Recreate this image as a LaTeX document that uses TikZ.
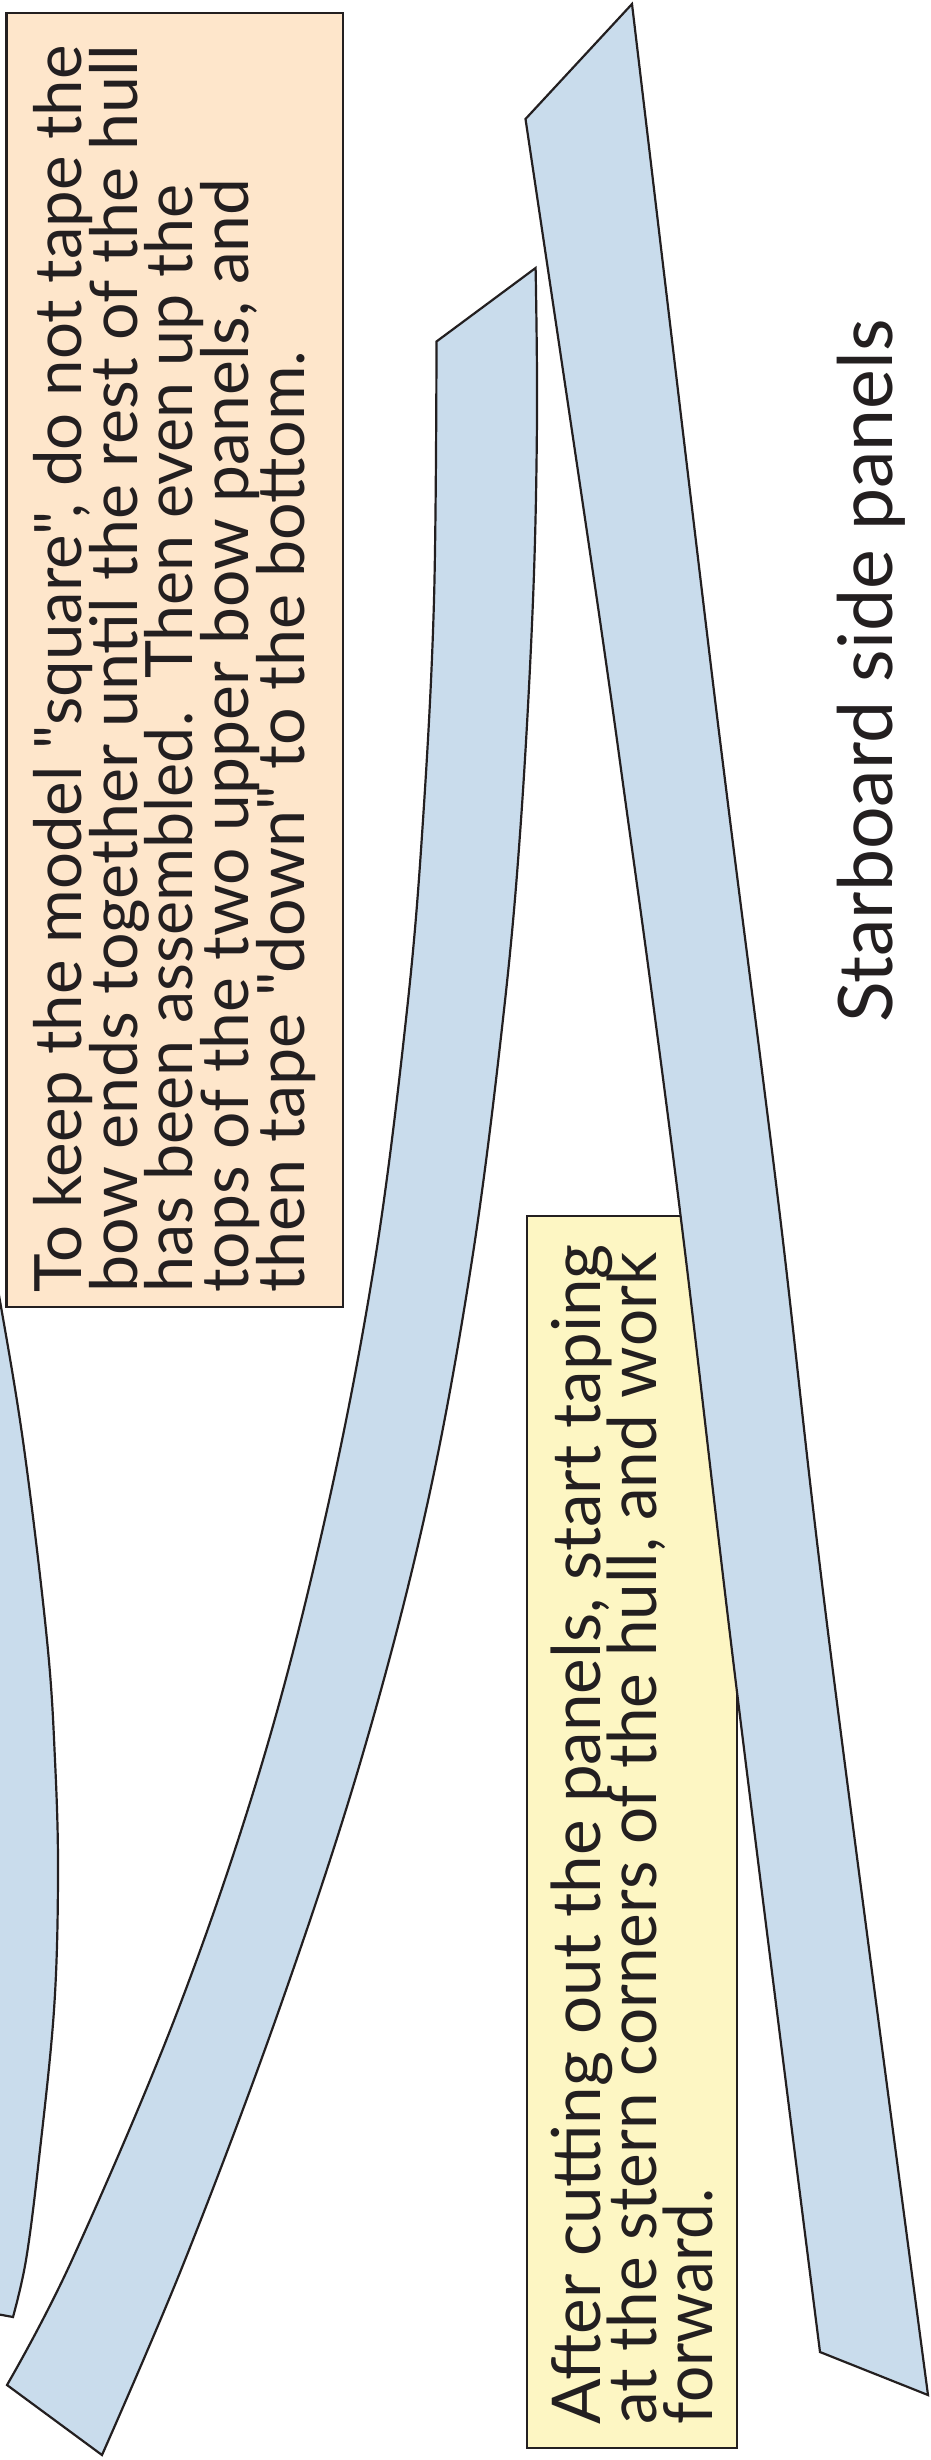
\documentclass[tikz,border=0pt]{standalone}
\usepackage{fontspec}
\newfontfamily\gill{Lato}
\definecolor{ink}{HTML}{231F20}
\definecolor{panelblue}{HTML}{C9DCEC}
\definecolor{notepeach}{HTML}{FEE6CB}
\definecolor{noteyellow}{HTML}{FDF6C3}
\newcommand{\fitl}[2]{\scalebox{#1}[1]{#2}}
\newcommand{\tightlines}{\setlength{\lineskiplimit}{-200pt}\relax}
\tikzset{
  panel/.style={draw=ink,fill=panelblue,line width=2.2pt,line join=miter},
  notebox/.style={draw=ink,line width=2.7pt},
  lbl/.style={text=ink,rotate=90,anchor=north west,align=left,inner sep=0pt}
}
\begin{document}
\begin{tikzpicture}[x=1bp,y=-1bp]
\useasboundingbox (0,0) rectangle (930,2460);
\fill[white] (0,0) rectangle (930,2460);
\begin{scope}
\clip (0,0) rectangle (930,2460);
\draw[panel] plot[smooth,tension=0.6] coordinates {(-14,1230) (0,1301) (24,1448) (47,1640) (55,1760) (58,1875) (54,2010) (38.5,2163) (26,2260) (13,2317)} -- (-14,2312) -- cycle;
\end{scope}
\draw[notebox,fill=notepeach] (6.5,13) rectangle (343,1307);
\draw[notebox,fill=noteyellow] (527,1216) rectangle (737,2448);
\draw[panel] (535.6,268) -- (436.5,341.5)
  -- plot[smooth,tension=0.6] coordinates {(436.5,341.5) (434,600) (423,820) (407,1010) (375,1260) (327,1510) (263,1760) (178,2010) (72,2260) (7,2385)}
  -- (102,2455)
  -- plot[smooth,tension=0.6] coordinates {(102,2455) (185,2260) (279,2010) (361,1760) (426,1510) (472,1260) (504,1010) (521,820) (533,600) (537,418) (535.6,268)} -- cycle;
\draw[panel] (632,4) -- (525.5,119)
  -- plot[smooth,tension=0.6] coordinates {(525.5,119) (597,600) (628,820) (654,1010) (686,1260) (737,1692) (820,2352)}
  -- (928,2395)
  -- plot[smooth,tension=0.6] coordinates {(928,2395) (829,1640) (780,1216) (730,820) (703,600) (632,4)} -- cycle;
\node[lbl,font=\gill\fontsize{65.6}{56}\selectfont\tightlines] (peach) at (33,1293) {To keep the model "square", do not tape the\\\fitl{1.015}{bow ends together until the rest of the hull}\\\fitl{0.987}{has been assembled.~~Then even up the}\\\fitl{1.009}{tops of the two upper bow panels, and}\\\fitl{1.016}{then tape "down" to the bottom.}};
\node[lbl,font=\gill\fontsize{67.6}{56}\selectfont\tightlines] (yellow) at (551,2424.5) {After cutting out the panels, start taping\\\fitl{0.974}{at the stern corners of the hull, and work}\\\fitl{0.95}{forward.}};
\node[text=ink,rotate=90,anchor=base west,inner sep=0pt,font=\gill\fontsize{75.5}{80}\selectfont] (title) at (892.6,1023) {Starboard side panels};
\end{tikzpicture}
\end{document}
